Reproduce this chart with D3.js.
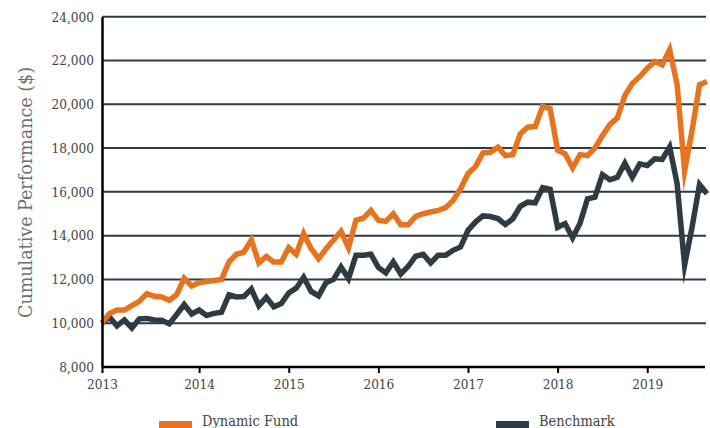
<!DOCTYPE html>
<html>
<head>
<meta charset="utf-8">
<script src="https://cdn.jsdelivr.net/npm/d3@7"></script>
<style>
  body { margin: 0; background: #fff; }
  svg text { font-family: "DejaVu Serif Condensed", "DejaVu Serif", serif; font-stretch: condensed; }
</style>
</head>
<body>
<div id="chart-area"><svg></svg></div>
<script>
// Monthly values, Dec 2012 (start = 10,000) to Sep 2019
const fund = [
    10000, 10450, 10600, 10600, 10800, 11000, 11350, 11230, 11200, 11050, 11300, 12050,
    11700, 11850, 11900, 11950, 12000, 12800, 13150, 13250, 13800, 12750, 13050, 12800,
    12800, 13450, 13150, 14100, 13400, 12950, 13400, 13800, 14200, 13450, 14700, 14800,
    15150, 14700, 14650, 15000, 14500, 14500, 14880, 15000, 15080, 15150, 15280, 15610,
    16140, 16830, 17150, 17780, 17810, 18040, 17660, 17700, 18650, 18950, 18980, 19900,
    19800, 17900, 17740, 17100, 17700, 17660, 18000, 18570, 19070, 19380, 20390, 20950,
    21260, 21650, 21950, 21800, 22500, 20900, 16950, 18800, 20890, 21040
];
const benchmark = [
    10000, 10280, 9880, 10150, 9780, 10200, 10220, 10150, 10140, 9970, 10400, 10850,
    10420, 10600, 10350, 10450, 10500, 11300, 11200, 11220, 11560, 10800, 11180, 10750,
    10900, 11380, 11600, 12100, 11450, 11250, 11850, 12000, 12570, 12040, 13100, 13100,
    13150, 12550, 12300, 12800, 12250, 12600, 13060, 13150, 12750, 13100, 13100, 13330,
    13480, 14240, 14620, 14900, 14870, 14780, 14510, 14770, 15340, 15530, 15500, 16190,
    16120, 14380, 14550, 13900, 14570, 15680, 15760, 16790, 16550, 16670, 17310, 16670,
    17280, 17200, 17510, 17480, 18050, 16370, 12650, 14390, 16340, 15910
];
const seriesNames = ["Dynamic Fund", "Benchmark"];
const seriesColors = ["#e8731e", "#2f3b42"];
const yearLabels = ["2013", "2014", "2015", "2016", "2017", "2018", "2019"];
const yearIndex = [0, 13, 25, 37, 49, 61, 73];
const yTicks = [8000, 10000, 12000, 14000, 16000, 18000, 20000, 22000, 24000];

const width = 710;
const height = 428;
const svg = d3.select("#chart-area").select("svg");
svg.attr("width", width).attr("height", height);

// Margin Convention
const margin = { top: 16.7, right: 3, bottom: 61, left: 102 };
const innerWidth = width - margin.left - margin.right;
const innerHeight = height - margin.top - margin.bottom;
const g = svg.append("g")
    .attr("transform", `translate(${margin.left},${margin.top})`);

const x = d3.scaleLinear().domain([0, fund.length - 1]).range([0, innerWidth]);
const y = d3.scaleLinear().domain([8000, 24000]).range([innerHeight, 0]);

// gridlines
g.append("g").selectAll("line")
    .data(yTicks.slice(1))
    .join("line")
    .attr("x1", 0).attr("x2", innerWidth - 1)
    .attr("y1", d => y(d)).attr("y2", d => y(d))
    .attr("stroke", "#2f3b42")
    .attr("stroke-width", 2);

// series lines (benchmark under the fund)
const line = d3.line().x((d, i) => x(i)).y(d => y(d));
[benchmark, fund].forEach((s, k) => {
    g.append("path")
        .datum(s)
        .attr("fill", "none")
        .attr("stroke", seriesColors[1 - k])
        .attr("stroke-width", 5.5)
        .attr("stroke-linejoin", "miter")
        .attr("stroke-miterlimit", 20)
        .attr("d", line);
});

// axes
const xAxis = g.append("g")
    .attr("transform", `translate(0,${innerHeight})`)
    .call(d3.axisBottom(x)
        .tickValues(yearIndex)
        .tickFormat((d, i) => yearLabels[i])
        .tickSize(6)
        .tickSizeOuter(0)
        .tickPadding(6));
xAxis.select(".domain").attr("stroke", "#000").attr("stroke-width", 2.5)
    .attr("d", `M0,0H${innerWidth - 2}`);
xAxis.selectAll(".tick line").attr("stroke", "#000").attr("stroke-width", 2);
xAxis.selectAll("text").attr("font-size", 13.5).attr("fill", "#444");

const yAxis = g.append("g")
    .call(d3.axisLeft(y)
        .tickValues(yTicks)
        .tickFormat(d3.format(","))
        .tickSize(0)
        .tickPadding(8));
yAxis.select(".domain").attr("stroke", "#000").attr("stroke-width", 2.5);
yAxis.selectAll("text").attr("font-size", 13.5).attr("fill", "#444");

// y title
svg.append("text")
    .attr("transform", "translate(32,192.5) rotate(-90)")
    .attr("text-anchor", "middle")
    .attr("font-size", 19)
    .attr("fill", "#6d6e71")
    .attr("textLength", 251)
    .attr("lengthAdjust", "spacingAndGlyphs")
    .text("Cumulative Performance ($)");

// legend
const legendX = [159, 496];
seriesNames.forEach((name, k) => {
    svg.append("rect")
        .attr("x", legendX[k]).attr("y", 421)
        .attr("width", 33).attr("height", 7)
        .attr("fill", seriesColors[k]);
    svg.append("text")
        .attr("x", legendX[k] + 43).attr("y", 426)
        .attr("font-size", 14.5)
        .attr("fill", "#444")
        .text(name);
});
</script>
</body>
</html>
